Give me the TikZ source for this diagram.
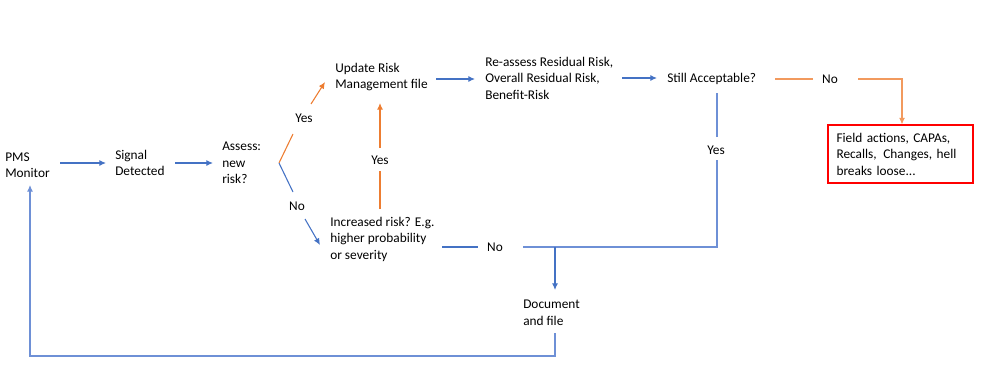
\documentclass[tikz,border=0pt]{standalone}
\usepackage{fontspec}
\setmainfont{Carlito}
\usetikzlibrary{arrows.meta}
\definecolor{myblue}{HTML}{4472C4}
\definecolor{myblueL}{HTML}{6E90D6}
\definecolor{myorange}{HTML}{ED7D31}
\definecolor{myorangeL}{HTML}{F29A5E}
\definecolor{myred}{HTML}{FF0000}
\begin{document}
\begin{tikzpicture}[x=0.75pt,y=-0.75pt,
  txt/.style={font=\fontsize{10}{12.4}\selectfont, inner sep=0pt, align=left, anchor=west},
  lab/.style={font=\fontsize{10}{12.4}\selectfont, inner sep=0pt},
  bl/.style={draw=myblue, line width=0.8pt},
  blL/.style={draw=myblueL, line width=0.8pt},
  orr/.style={draw=myorange, line width=0.8pt},
  orL/.style={draw=myorangeL, line width=0.8pt},
  tipb/.style={-{Latex[length=5pt,width=4.5pt]}},
  box/.style={draw=myred, line width=0.8pt, font=\fontsize{10}{12.4}\selectfont, align=left,
    text width=96pt, inner xsep=6pt, inner ysep=0pt, minimum width=108.75pt, minimum height=43.5pt}]
\useasboundingbox (0,0) rectangle (999,382);

% text nodes
\node[txt] (pms) at (5,165) {PMS\\Monitor};
\node[txt] (sig) at (115,163) {Signal\\Detected};
\node[txt] (ass) at (222,163) {Assess:\\new\\risk?};
\node[txt] (upd) at (335,77) {Update Risk\\Management file};
\node[txt] (inc) at (330,239) {Increased risk? E.g.\\higher probability\\or severity};
\node[txt] (rea) at (485,78) {Re-assess Residual Risk,\\Overall Residual Risk,\\Benefit-Risk};
\node[txt] (acc) at (667,79) {Still Acceptable?};
\node[txt] (doc) at (523,313) {Document\\and file};
\node[box] (fld) at (900.5,154) {Field actions, CAPAs,\\Recalls,\, Changes, hell\\breaks loose...};

% labels
\node[lab] (y1) at (304,118) {Yes};
\node[lab] (n1) at (297,206) {No};
\node[lab] (y2) at (380,160) {Yes};
\node[lab] (n2) at (495,247) {No};
\node[lab] (y3) at (716,150) {Yes};
\node[lab] (n3) at (830,79) {No};

% coordinates
\coordinate (br) at (279,163);
\coordinate (y1a) at (293,134);
\coordinate (y1b) at (311,104);
\coordinate (updin) at (325,82);
\coordinate (n1a) at (293,192);
\coordinate (n1b) at (305,219);
\coordinate (incin) at (320,245);
\coordinate (y2a) at (380,209);
\coordinate (y2b) at (380,171);
\coordinate (y2c) at (380,148);
\coordinate (updbot) at (380,103);
\coordinate (n2a) at (442,247);
\coordinate (n2b) at (478,247);
\coordinate (n2c) at (523,247);
\coordinate (jn) at (555,247);
\coordinate (corner) at (717,247);
\coordinate (y3a) at (717,160);
\coordinate (y3b) at (717,137);
\coordinate (accbot) at (717,93);
\coordinate (docin) at (555,290);
\coordinate (docout) at (555,333);
\coordinate (fb1) at (555,356);
\coordinate (fb2) at (30,356);
\coordinate (pmsin) at (30,185);
\coordinate (n3a) at (775,79);
\coordinate (n3b) at (813,79);
\coordinate (n3c) at (858,79);
\coordinate (n3d) at (902,79);

% main flow
\draw[bl,tipb] (60,163) -- (sig.west -| 106,0);
\draw[bl,tipb] (175,163) -- (213,163);
\draw[bl,tipb] (436,79) -- (475,79);
\draw[bl,tipb] (622,78) -- (657,78);

% new risk branches
\draw[orr] (br) -- (y1a);
\draw[orr,tipb] (y1b) -- (updin);
\draw[bl] (br) -- (n1a);
\draw[bl,tipb] (n1b) -- (incin);

% increased risk yes
\draw[orr] (y2a) -- (y2b);
\draw[orr,tipb] (y2c) -- (updbot);

% increased risk no
\draw[bl] (n2a) -- (n2b);
\draw[blL] (n2c) -- (corner) -- (y3a);
\draw[blL] (y3b) -- (accbot);
\draw[bl,tipb] (jn) -- (docin);

% feedback
\draw[blL,tipb] (docout) -- (fb1) -- (fb2) -- (pmsin);

% not acceptable
\draw[orL] (n3a) -- (n3b);
\draw[orL,tipb] (n3c) -- (n3d) -- (fld.north -| n3d);
\end{tikzpicture}
\end{document}
